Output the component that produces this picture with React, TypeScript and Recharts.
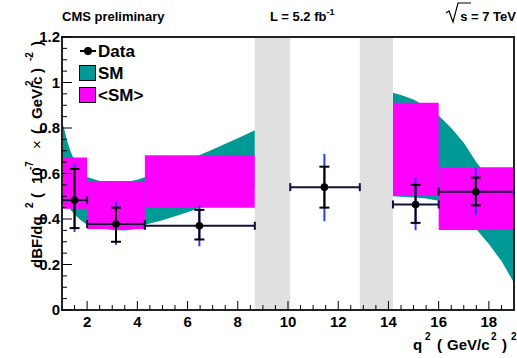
import { ComposedChart, Area, Scatter, ErrorBar, XAxis, YAxis, ReferenceArea } from 'recharts';

const TEAL = '#009a96';
const MAGENTA = '#ff00ff';
const FONT = '"Liberation Sans", Arial, Helvetica, sans-serif';

// SM prediction band (low and high q2 regions)
const bandLowQ2 = [1, 1.1, 1.2, 1.35, 1.5, 1.75, 2, 2.5, 3, 3.5, 4, 4.3, 5, 6, 7, 8, 8.68];
const bandLowMin = [0.5, 0.48, 0.46, 0.44, 0.42, 0.395, 0.375, 0.36, 0.352, 0.35, 0.357, 0.375, 0.395, 0.43, 0.47, 0.51, 0.535];
const bandLowMax = [0.83, 0.79, 0.745, 0.695, 0.655, 0.61, 0.585, 0.567, 0.56, 0.562, 0.572, 0.583, 0.615, 0.658, 0.705, 0.755, 0.79];
const bandHighQ2 = [14.18, 14.5, 15, 15.5, 16, 16.5, 17, 17.5, 18, 18.5, 19];
const bandHighMin = [0.5, 0.498, 0.495, 0.49, 0.48, 0.45, 0.41, 0.355, 0.29, 0.215, 0.12];
const bandHighMax = [0.955, 0.945, 0.925, 0.895, 0.855, 0.8, 0.735, 0.65, 0.58, 0.51, 0.43];

// <SM> bin averages
const avgBinLo = [1, 2, 4.3, 14.18, 16];
const avgBinHi = [2, 4.3, 8.68, 16, 19];
const avgMin = [0.445, 0.356, 0.45, 0.502, 0.352];
const avgMax = [0.67, 0.567, 0.68, 0.911, 0.627];

// measured points
const dataBinLo = [1, 2, 4.3, 10.09, 14.18, 16];
const dataBinHi = [2, 4.3, 8.68, 12.86, 16, 19];
const dataQ2 = [1.5, 3.15, 6.47, 11.45, 15.08, 17.48];
const dataBF = [0.483, 0.378, 0.37, 0.54, 0.464, 0.52];
const statDn = [0.123, 0.078, 0.06, 0.09, 0.081, 0.06];
const statUp = [0.137, 0.072, 0.07, 0.09, 0.086, 0.062];
const totDn = [0.14, 0.092, 0.09, 0.15, 0.113, 0.103];
const totUp = [0.159, 0.097, 0.09, 0.146, 0.116, 0.104];

// charmonium veto regions
const vetoLo = [8.68, 12.86];
const vetoHi = [10.09, 14.18];

const xTicks = Array.from({ length: 35 }, (_, i) => 1.5 + i * 0.5);
const xMajor = [2, 4, 6, 8, 10, 12, 14, 16, 18];
const yTicks = Array.from({ length: 25 }, (_, i) => Math.round(i * 5) / 100);
const yMajor = [0, 0.2, 0.4, 0.6, 0.8, 1, 1.2];

const bandData = [
  ...bandLowQ2.map((q2, i) => ({ q2, band: [bandLowMin[i], bandLowMax[i]] })),
  { q2: 11.5, band: null },
  ...bandHighQ2.map((q2, i) => ({ q2, band: [bandHighMin[i], bandHighMax[i]] })),
];

const points = dataQ2.map((q2, i) => ({
  q2,
  y: dataBF[i],
  xErr: [q2 - dataBinLo[i], dataBinHi[i] - q2],
  stat: [statDn[i], statUp[i]],
  tot: [totDn[i], totUp[i]],
}));

const isMajor = (v: number, list: number[]) => list.some((m) => Math.abs(m - v) < 1e-6);

const XTick = (props: any) => {
  const { x, y, payload } = props;
  const major = isMajor(payload.value, xMajor);
  return (
    <g>
      <line x1={x} x2={x} y1={y} y2={y - (major ? 9 : 5)} stroke="#000" strokeWidth={1} />
      {major && (
        <text x={x} y={y + 17} textAnchor="middle" fontSize={15} fontWeight="bold" fontFamily={FONT} fill="#000">
          {payload.value}
        </text>
      )}
    </g>
  );
};

const YTick = (props: any) => {
  const { x, y, payload } = props;
  const major = isMajor(payload.value, yMajor);
  return (
    <g>
      <line x1={x} x2={x + (major ? 10 : 5)} y1={y} y2={y} stroke="#000" strokeWidth={1} />
      {major && (
        <text x={x - 2} y={y + 5} textAnchor="end" fontSize={15} fontWeight="bold" fontFamily={FONT} fill="#000">
          {String(Number(payload.value.toFixed(2)))}
        </text>
      )}
    </g>
  );
};

const Dot = (props: any) => <circle cx={props.cx} cy={props.cy} r={3.8} fill="#000" />;

export default function App() {
  return (
    <div style={{ position: 'absolute', left: 0, top: 0, width: 517, height: 358, background: '#fff' }}>
      <ComposedChart width={517} height={358} data={bandData} margin={{ top: 37, right: 3, bottom: 0, left: 0 }}>
        <defs>
          <pattern id="veto" width="2" height="2" patternUnits="userSpaceOnUse">
            <rect width="2" height="2" fill="#e6e6e6" />
            <rect width="1" height="1" fill="#dadada" />
            <rect x="1" y="1" width="1" height="1" fill="#dadada" />
          </pattern>
        </defs>
        <XAxis
          dataKey="q2"
          type="number"
          domain={[1, 19]}
          ticks={xTicks}
          interval={0}
          allowDataOverflow
          height={48}
          tickSize={0}
          tickMargin={0}
          tickLine={false}
          axisLine={false}
          tick={<XTick />}
        />
        <YAxis
          type="number"
          domain={[0, 1.2]}
          ticks={yTicks}
          interval={0}
          allowDataOverflow
          width={62}
          tickSize={0}
          tickMargin={0}
          tickLine={false}
          axisLine={false}
          tick={<YTick />}
        />
        <Area
          dataKey="band"
          type="linear"
          fill={TEAL}
          fillOpacity={1}
          stroke="none"
          connectNulls={false}
          dot={false}
          activeDot={false}
          isAnimationActive={false}
        />
        {avgBinLo.map((lo, i) => (
          <ReferenceArea key={`avg${i}`} x1={lo} x2={avgBinHi[i]} y1={avgMin[i]} y2={avgMax[i]} fill={MAGENTA} fillOpacity={1} stroke="none" ifOverflow="visible" />
        ))}
        {vetoLo.map((lo, i) => (
          <ReferenceArea key={`veto${i}`} x1={lo} x2={vetoHi[i]} y1={0} y2={1.2} fill="url(#veto)" fillOpacity={1} stroke="none" ifOverflow="visible" />
        ))}
        <Scatter data={points} dataKey="y" shape={<Dot />} isAnimationActive={false}>
          <ErrorBar dataKey="xErr" direction="x" width={4} stroke="#111133" strokeWidth={2} />
          <ErrorBar dataKey="tot" direction="y" width={0} stroke="#2b3cff" strokeWidth={2} />
          <ErrorBar dataKey="stat" direction="y" width={5} stroke="#000" strokeWidth={2} />
        </Scatter>
        <ReferenceArea x1={1} x2={19} y1={0} y2={1.2} fill="none" stroke="#222" strokeWidth={2} ifOverflow="visible" />
      </ComposedChart>

      <svg width={517} height={358} style={{ position: 'absolute', left: 0, top: 0, pointerEvents: 'none' }} fontFamily={FONT} fontWeight="bold">
        <text x={62} y={21} fontSize={13}>CMS preliminary</text>
        <text x={270} y={21} fontSize={13}>
          L = 5.2 fb<tspan dy={-6} fontSize={9}>-1</tspan>
        </text>
        <path d="M446,13 L449,11 L453,22 L458,3 L471,3" fill="none" stroke="#000" strokeWidth={1.2} />
        <text x={516} y={21} fontSize={13} textAnchor="end">s = 7 TeV</text>

        {/* legend */}
        <line x1={80} x2={96} y1={51} y2={51} stroke="#000" strokeWidth={2} />
        <circle cx={88} cy={51} r={4} fill="#000" />
        <text x={98} y={57} fontSize={17}>Data</text>
        <rect x={79.5} y={65.5} width={16} height={15} fill={TEAL} stroke="#000" />
        <text x={98} y={79} fontSize={17}>SM</text>
        <rect x={79.5} y={87.5} width={16} height={15} fill={MAGENTA} stroke="#000" />
        <text x={98} y={101} fontSize={17}>&lt;SM&gt;</text>

        {/* x axis title */}
        <text fontSize={15}>
          <tspan x={413} y={350}>q</tspan>
          <tspan x={425} y={340} fontSize={10}>2</tspan>
          <tspan x={437} y={350}>(</tspan>
          <tspan x={447} y={350}>GeV/c</tspan>
          <tspan x={491} y={340} fontSize={10}>2</tspan>
          <tspan x={502} y={350}>)</tspan>
          <tspan x={511} y={340} fontSize={10}>2</tspan>
        </text>

        {/* y axis title, rotated: local x = -screenY */}
        <text transform="translate(42,0) rotate(-90)" fontSize={15}>
          <tspan x={-268} y={0}>dBF/dq</tspan>
          <tspan x={-208} y={-9} fontSize={10}>2</tspan>
          <tspan x={-198} y={0}>(</tspan>
          <tspan x={-184} y={0}>10</tspan>
          <tspan x={-170} y={-9} fontSize={10}>-7</tspan>
          <tspan x={-149} y={0} fontWeight="normal">×</tspan>
          <tspan x={-134} y={0}>(</tspan>
          <tspan x={-119} y={0}>GeV/c</tspan>
          <tspan x={-86} y={-9} fontSize={10}>2</tspan>
          <tspan x={-73} y={0}>)</tspan>
          <tspan x={-61} y={-9} fontSize={10}>-2</tspan>
          <tspan x={-46} y={0}>)</tspan>
        </text>
      </svg>
    </div>
  );
}
